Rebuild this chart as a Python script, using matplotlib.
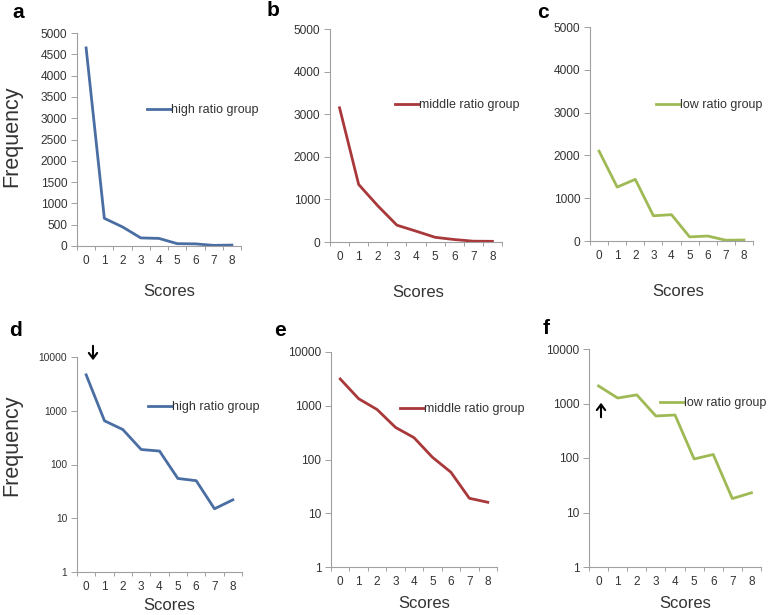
import matplotlib
matplotlib.use("Agg")
import matplotlib.pyplot as plt
import numpy as np

plt.rcParams['font.family'] = ['Liberation Sans', 'DejaVu Sans']

scores = [0, 1, 2, 3, 4, 5, 6, 7, 8]
score_labels = ["0", "1", "2", "3", "4", "5", "6", "7", "8"]
high_ratio = [4650, 650, 447, 190, 178, 55, 50, 15, 22]
middle_ratio = [3150, 1350, 850, 395, 255, 110, 58, 19, 16]
low_ratio = [2100, 1260, 1440, 590, 615, 96, 116, 18, 23]
group_names = ["high ratio group", "middle ratio group", "low ratio group"]
colors = ["#4a6ea3", "#a8383a", "#9fba55"]
panel_letters = ["a", "b", "c", "d", "e", "f"]

W, H = 778, 615
fig = plt.figure(figsize=(W / 100, H / 100), dpi=100)

def rect(l, r, t, b):
    return [l / W, 1 - b / H, (r - l) / W, (b - t) / H]

# pixel boxes of the plot areas
boxes = [
    (77, 241, 33, 246), (330, 502, 29, 242), (590, 753, 27, 241),
    (77, 242, 357, 572), (331, 497, 352, 567), (589, 761, 349, 567),
]
legend_pos = [(147, 110), (395, 105), (656, 105), (148, 407), (400, 409), (660, 403)]
score_pos = [(169, 291), (418, 292), (678, 291), (169, 605), (424, 604), (685, 604)]
letter_pos = [(18, 13), (273, 10), (543, 12), (16, 330), (280, 330), (546, 329)]
ytick_sizes = [8.6, 8.6, 8.6, 7.4, 8.6, 8.6]

series = [high_ratio, middle_ratio, low_ratio]
spine_col = "#a0a0a0"
text_col = "#333333"

for i in range(6):
    ax = fig.add_axes(rect(*boxes[i]))
    data = series[i % 3]
    ax.plot(scores, data, color=colors[i % 3], lw=2.0, solid_joinstyle='round',
            label=group_names[i % 3])
    ax.set_xlim(-0.5, 8.5)
    if i < 3:
        ax.set_ylim(0, 5000)
        if i == 0:
            ax.set_yticks(np.arange(0, 5001, 500))
        else:
            ax.set_yticks(np.arange(0, 5001, 1000))
    else:
        ax.set_yscale('log')
        ax.set_ylim(1, 10000)
        ax.set_yticks([1, 10, 100, 1000, 10000])
        ax.set_yticklabels(["1", "10", "100", "1000", "10000"])
        ax.yaxis.set_minor_locator(matplotlib.ticker.NullLocator())
    ax.set_xticks(scores)
    ax.set_xticklabels(score_labels)
    ax.set_xticks(np.arange(-0.5, 9, 1), minor=True)
    ax.tick_params(axis='x', which='major', length=0, pad=6.5, labelsize=8.5, labelcolor=text_col)
    ax.tick_params(axis='x', which='minor', length=3, width=0.7, color=spine_col, direction='out')
    ax.tick_params(axis='y', which='major', length=4, width=0.7, color=spine_col,
                   labelsize=ytick_sizes[i], labelcolor=text_col, pad=3)
    for s in ['top', 'right']:
        ax.spines[s].set_visible(False)
    for s in ['left', 'bottom']:
        ax.spines[s].set_color(spine_col)
        ax.spines[s].set_linewidth(0.8)
    ax.patch.set_alpha(0)

    lx, ly = legend_pos[i]
    ax.legend(loc='center left', bbox_to_anchor=(lx / W, 1 - ly / H),
              bbox_transform=fig.transFigure, frameon=False, fontsize=9,
              handlelength=1.9, handletextpad=0.05, borderpad=0, borderaxespad=0,
              labelcolor=text_col)

    sx, sy = score_pos[i]
    fig.text(sx / W, 1 - sy / H, "Scores", fontsize=12, color=text_col,
             ha='center', va='center')
    px, py = letter_pos[i]
    fig.text(px / W, 1 - py / H, panel_letters[i], fontsize=15, fontweight='bold',
             color='black', ha='center', va='center')

fig.text(12 / W, 1 - 136 / H, "Frequency", fontsize=15.5, color=text_col,
         rotation=90, ha='center', va='center')
fig.text(12 / W, 1 - 445 / H, "Frequency", fontsize=15.5, color=text_col,
         rotation=90, ha='center', va='center')

# arrows
fig.add_artist(matplotlib.patches.FancyArrowPatch(
    (93 / W, 1 - 343 / H), (93 / W, 1 - 363 / H), transform=fig.transFigure,
    arrowstyle='->,head_length=4,head_width=3', color='black', lw=1.5))
fig.add_artist(matplotlib.patches.FancyArrowPatch(
    (601 / W, 1 - 420 / H), (601 / W, 1 - 400 / H), transform=fig.transFigure,
    arrowstyle='->,head_length=4,head_width=3', color='black', lw=1.5))

fig.savefig("out.png", dpi=100)
